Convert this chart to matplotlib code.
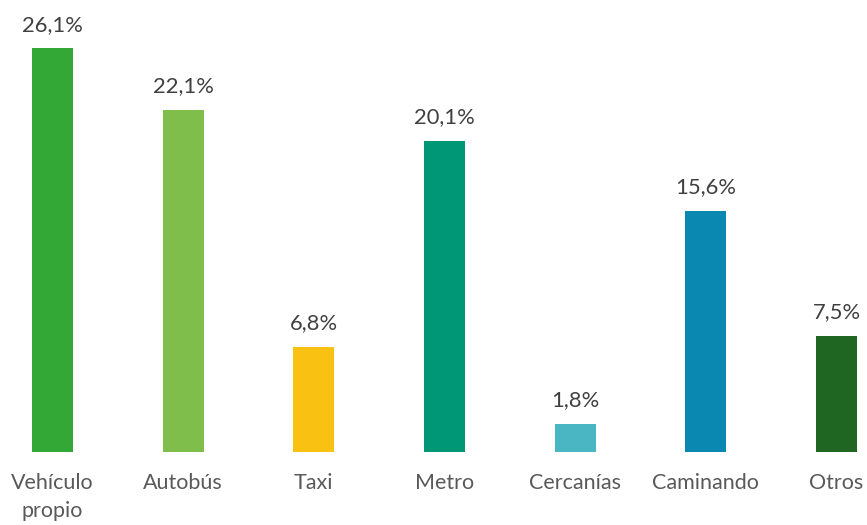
import matplotlib.pyplot as plt

plt.rcParams['font.family'] = ['Lato', 'DejaVu Sans']

categorias = ['Vehículo\npropio', 'Autobús', 'Taxi', 'Metro', 'Cercanías', 'Caminando', 'Otros']
valores = [26.1, 22.1, 6.8, 20.1, 1.8, 15.6, 7.5]
colores = ['#34A836', '#7FBE4A', '#F9C213', '#009776', '#4AB6C4', '#0A88B2', '#1F6623']

fig = plt.figure(figsize=(8.67, 5.25), dpi=100)
ax = fig.add_axes([0, 73 / 525, 1, 452 / 525])

x = list(range(len(valores)))
barras = ax.bar(x, valores, width=41 / 130.67, color=colores)

# etiquetas de valor encima de cada barra
for b, v in zip(barras, valores):
    ax.annotate(f'{v:.1f}%'.replace('.', ','),
                (b.get_x() + b.get_width() / 2, v),
                xytext=(0, 10), textcoords='offset points',
                ha='center', va='bottom', fontsize=15.8, color='#404040')

ax.set_xlim(-52.5 / 130.67, 6 + 30.5 / 130.67)
ax.set_ylim(0, 452 / 15.46)
ax.set_xticks(x)
ax.set_xticklabels(categorias, fontsize=15.5, color='#595959', linespacing=1.5)
ax.tick_params(axis='x', length=0, pad=15)
ax.set_yticks([])
for s in ax.spines.values():
    s.set_visible(False)

fig.savefig('out.png', dpi=100)
